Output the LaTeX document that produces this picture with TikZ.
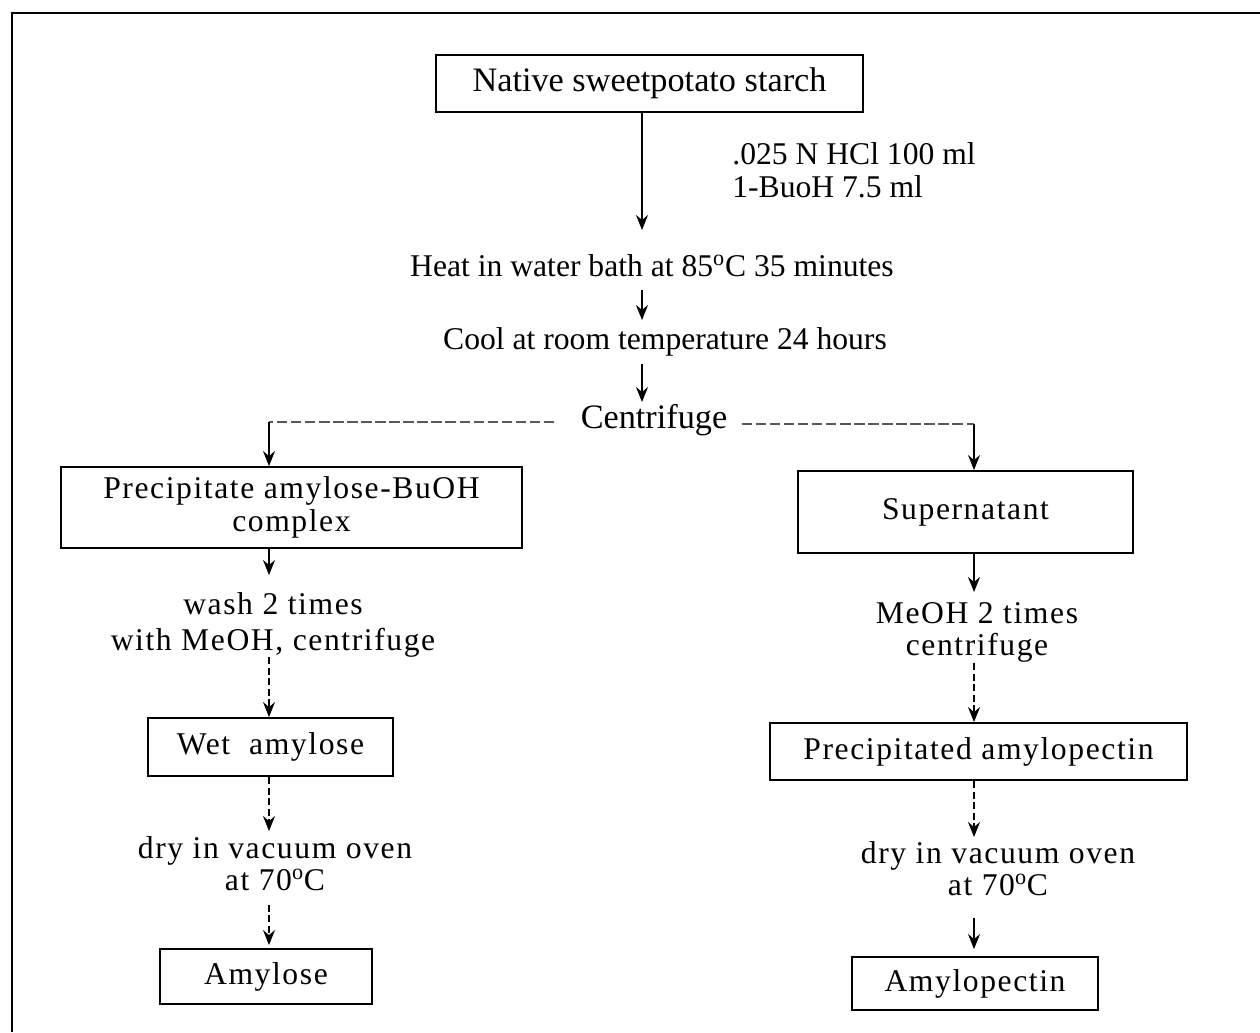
\documentclass[tikz,border=0pt]{standalone}
\usepackage{fontspec}
\setmainfont{Liberation Serif}
\newfontfamily\spaced[LetterSpace=5]{Liberation Serif}
\usetikzlibrary{arrows.meta, positioning}

\begin{document}
\begin{tikzpicture}[
        x=0.02cm, y=-0.02cm,
        box/.style 2 args={draw, line width=1.1pt, inner sep=0pt, minimum width=#1, minimum height=#2, align=center},
        txt/.style={inner sep=0pt, anchor=north, align=center},
        big/.style={font=\fontsize{19.5}{22}\selectfont},
        main/.style={font=\fontsize{18}{18.7}\selectfont},
        low/.style={font=\fontsize{18}{18.6}\selectfont\spaced},
        line/.style={line width=0.6pt},
        arr/.style={line, -{Stealth[length=3mm, width=2.4mm, inset=1mm]}},
        dasharr/.style={arr, dash pattern=on 4pt off 2pt},
        dline/.style={line, black!65, dash pattern=on 6pt off 2pt}
    ]
        \useasboundingbox (0,0) rectangle (1260,1032);
        \draw[line width=1.1pt] (1260,13) -- (12,13) -- (12,1032);

        % columns the arrows run down
        \coordinate (mcol) at (642,0);
        \coordinate (lcol) at (269,422);
        \coordinate (rcol) at (974,424);

        % common part
        \node[box={8.54cm}{1.14cm}, big] (native) at (649.5,83.5) {Native sweetpotato starch};
        \node[txt, main, anchor=north west, align=left] (hcl) at (732,142) {.025 N HCl 100 ml\\1-BuoH 7.5 ml};
        \node[txt, main] (heat) at (652,254) {Heat in water bath at 85\textsuperscript{o}C 35 minutes};
        \node[txt, main] (cool) at (665,327) {Cool at room temperature 24 hours};
        \node[txt, big] (cent) at (654,404) {Centrifuge};

        % amylose side
        \node[box={9.22cm}{1.62cm}, low] (prec) at (291.5,507.5) {Precipitate amylose-BuOH\\complex};
        \node[txt, low] (wash) at (273,592) {wash 2 times\\[1.8pt]with MeOH, centrifuge};
        \node[box={4.9cm}{1.16cm}, low] (wet) at (270.5,747) {Wet\ \ amylose};
        \node[txt, low] (dryl) at (275,836) {dry in vacuum oven\\at 70\textsuperscript{o}C};
        \node[box={4.24cm}{1.1cm}, low] (amylose) at (266,976.5) {Amylose};

        % amylopectin side
        \node[box={6.7cm}{1.64cm}, low] (super) at (965.5,512) {Supernatant};
        \node[txt, low] (meoh) at (977,602) {MeOH 2 times\\centrifuge};
        \node[box={8.34cm}{1.14cm}, low] (pamy) at (978.5,751.5) {Precipitated amylopectin};
        \node[txt, low] (dryr) at (998,841) {dry in vacuum oven\\at 70\textsuperscript{o}C};
        \node[box={4.92cm}{1.06cm}, low] (apectin) at (975,983.5) {Amylopectin};

        % main line
        \draw[arr, shorten >=4.8mm] (native.south -| mcol) -- (heat.north -| mcol);
        \draw[arr, shorten <=2.6mm, shorten >=1.4mm] (heat.south -| mcol) -- (cool.north -| mcol);
        \draw[arr, shorten <=1.6mm, shorten >=0.4mm] (cool.south -| mcol) -- (cent.north -| mcol);

        % split after centrifuging
        \draw[dline, shorten <=5.2mm] (cent.west |- lcol) -- (lcol);
        \draw[arr] (lcol) -- (prec.north -| lcol);
        \draw[dline, shorten <=2.8mm] (cent.east |- rcol) -- (rcol);
        \draw[arr] (rcol) -- (super.north -| rcol);

        % left column
        \draw[arr, shorten >=3.4mm] (prec.south -| lcol) -- (wash.north -| lcol);
        \draw[dasharr] (wash.south -| lcol) -- (wet.north -| lcol);
        \draw[dasharr, shorten >=1mm] (wet.south -| lcol) -- (dryl.north -| lcol);
        \draw[dasharr, shorten <=2.6mm, shorten >=0.6mm] (dryl.south -| lcol) -- (amylose.north -| lcol);

        % right column
        \draw[arr, shorten >=2mm] (super.south -| rcol) -- (meoh.north -| rcol);
        \draw[dasharr] (meoh.south -| rcol) -- (pamy.north -| rcol);
        \draw[dasharr, shorten >=0.8mm] (pamy.south -| rcol) -- (dryr.north -| rcol);
        \draw[arr, shorten <=4.2mm, shorten >=1.4mm] (dryr.south -| rcol) -- (apectin.north -| rcol);
    \end{tikzpicture}
\end{document}
